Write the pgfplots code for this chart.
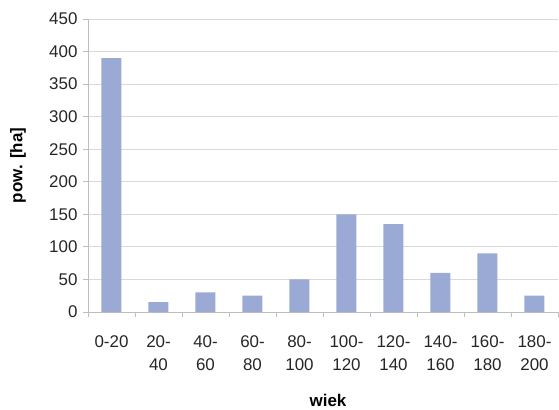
\documentclass[border=0pt]{standalone}
\usepackage{fontspec}
\setmainfont{Liberation Sans}
\usepackage{pgfplots}
\pgfplotsset{compat=1.18}

\definecolor{barblue}{RGB}{154,170,212}
\definecolor{gridgray}{RGB}{217,217,217}
\definecolor{axisgray}{RGB}{190,190,190}

\begin{document}
\begin{tikzpicture}
\begin{axis}[
    scale only axis,
    width=470bp, height=293bp,
    ybar, bar width=20bp,
    xmin=-0.5, xmax=9.5,
    ymin=0, ymax=450,
    ytick={0,50,...,450},
    xtick={0,...,9},
    xticklabels={0-20,{20-\\40},{40-\\60},{60-\\80},{80-\\100},{100-\\120},{120-\\140},{140-\\160},{160-\\180},{180-\\200}},
    minor xtick={-0.5,0.5,...,9.5},
    xtick style={draw=none},
    minor x tick style={draw=axisgray, line width=0.8pt},
    minor tick length=5bp,
    y tick style={draw=axisgray, line width=0.8pt},
    major tick length=5bp,
    tick align=outside,
    axis x line*=bottom,
    axis y line*=left,
    x axis line style={draw=axisgray, line width=0.8pt, -},
    y axis line style={draw=axisgray, line width=0.8pt, -},
    ymajorgrids,
    grid style={gridgray, line width=0.8pt},
    /pgf/number format/assume math mode=true,
    tick label style={font=\fontsize{17}{23}\selectfont, text=black!85},
    xticklabel style={align=center, yshift=-15bp},
    yticklabel style={xshift=-2bp},
    ylabel={pow. [ha]},
    xlabel={wiek},
    label style={font=\fontsize{17}{20}\selectfont\bfseries},
    ylabel style={at={(rel axis cs:0,0.5)}, anchor=center, yshift=70bp},
    xlabel style={at={(rel axis cs:0.5,0)}, anchor=center, yshift=-88bp, xshift=5bp},
]
\addplot[fill=barblue, draw=none] coordinates {
    (0,390) (1,15) (2,30) (3,25) (4,50) (5,150) (6,135) (7,60) (8,90) (9,25)
};
\end{axis}
\path (-88bp,-96bp) rectangle (471bp,312bp);
\end{tikzpicture}
\end{document}
